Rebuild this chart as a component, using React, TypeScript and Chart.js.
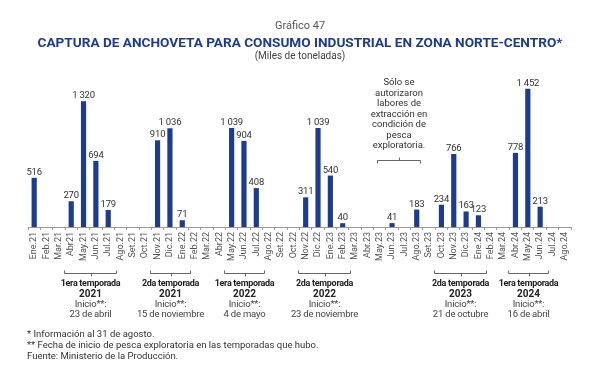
import React, { useEffect, useRef } from "react";
import { Chart, registerables } from "chart.js";

Chart.register(...registerables);

const months = [
  "Ene.21", "Feb.21", "Mar.21", "Abr21", "May.21", "Jun.21", "Jul.21", "Ago.21", "Set.21", "Oct.21", "Nov.21", "Dic.21",
  "Ene.22", "Feb.22", "Mar.22", "Abr22", "May.22", "Jun.22", "Jul.22", "Ago.22", "Set.22", "Oct.22", "Nov.22", "Dic.22",
  "Ene.23", "Feb.23", "Mar.23", "Abr.23", "May.23", "Jun.23", "Jul.23", "Ago.23", "Set.23", "Oct.23", "Nov.23", "Dic.23",
  "Ene.24", "Feb.24", "Mar.24", "Abr.24", "May.24", "Jun.24", "Jul.24", "Ago.24",
];

const captura: (number | null)[] = [
  516, null, null, 270, 1320, 694, 179, null, null, null, 910, 1036,
  71, null, null, null, 1039, 904, 408, null, null, null, 311, 1039,
  540, 40, null, null, null, 41, null, 183, null, 234, 766, 163,
  123, null, null, 778, 1452, 213, null, null,
];

const seasonNames = ["1era temporada", "2da temporada", "1era temporada", "2da temporada", "2da temporada", "1era temporada"];
const seasonYears = ["2021", "2021", "2022", "2022", "2023", "2024"];
const seasonStarts = ["23 de abril", "15 de noviembre", "4 de mayo", "23 de noviembre", "21 de octubre", "16 de abril"];
const seasonFrom = ["Abr21", "Nov.21", "May.22", "Nov.22", "Oct.23", "Abr.24"];
const seasonTo = ["Jul.21", "Ene.22", "Jul.22", "Feb.23", "Ene.24", "Jun.24"];

const noteLines = ["Sólo se", "autorizaron", "labores de", "extracción en", "condición de", "pesca", "exploratoria."];
const noteFrom = "May.23";
const noteTo = "Ago.23";

const footnotes = [
  "* Información al 31 de agosto.",
  "** Fecha de inicio de pesca exploratoria en las temporadas que hubo.",
  "Fuente: Ministerio de la Producción.",
];

const BAR_COLOR = "#1d3c8f";
const FONT = "Roboto";

function fmt(v: number): string {
  if (v >= 1000) {
    return Math.floor(v / 1000) + " " + String(v % 1000).padStart(3, "0");
  }
  return String(v);
}

const labelsPlugin = {
  id: "customLabels",
  afterDatasetsDraw(chart: any) {
    const ctx = chart.ctx;
    const meta = chart.getDatasetMeta(0);
    ctx.save();
    ctx.font = `9.5px ${FONT}`;
    (ctx as any).letterSpacing = "-0.2px";
    ctx.fillStyle = "#333";
    ctx.textAlign = "center";
    ctx.textBaseline = "alphabetic";
    meta.data.forEach((bar: any, i: number) => {
      const v = captura[i];
      if (v == null) return;
      ctx.fillText(fmt(v), bar.x, bar.y - 3);
    });
    ctx.restore();
  },
  afterDraw(chart: any) {
    const ctx = chart.ctx;
    const xs = chart.scales.x;
    const w = xs.width / months.length;
    const px = (m: string) => xs.getPixelForValue(months.indexOf(m));
    ctx.save();
    ctx.strokeStyle = "#666";
    ctx.lineWidth = 1;
    ctx.textAlign = "center";
    ctx.textBaseline = "middle";
    for (let s = 0; s < seasonNames.length; s++) {
      const x0 = Math.round(px(seasonFrom[s]) - 0.6 * w) + 0.5;
      const x1 = Math.round(px(seasonTo[s]) + 0.6 * w) + 0.5;
      const xc = Math.round((x0 + x1) / 2) + 0.5;
      const y = 273.5;
      ctx.beginPath();
      ctx.moveTo(x0, y - 3);
      ctx.lineTo(x0, y);
      ctx.lineTo(x1, y);
      ctx.lineTo(x1, y - 3);
      ctx.moveTo(xc, y);
      ctx.lineTo(xc, y + 3);
      ctx.stroke();
      const tx = (x0 + x1) / 2;
      ctx.fillStyle = "#222";
      (ctx as any).letterSpacing = "-0.3px";
      ctx.font = `bold 9px ${FONT}`;
      ctx.fillText(seasonNames[s], tx, 283.5);
      ctx.font = `bold 10px ${FONT}`;
      (ctx as any).letterSpacing = "0px";
      ctx.fillText(seasonYears[s], tx, 294.5);
      ctx.fillStyle = "#444";
      (ctx as any).letterSpacing = "-0.2px";
      ctx.font = `9.5px ${FONT}`;
      ctx.fillText("Inicio**:", tx, 305);
      ctx.fillText(seasonStarts[s], tx, 315);
    }
    // annotation
    const a0 = Math.round(px(noteFrom) - 0.25 * w) + 0.5;
    const a1 = Math.round(px(noteTo) + 0.25 * w) + 0.5;
    const ac = Math.round((a0 + a1) / 2) + 0.5;
    const ay = 160.5;
    ctx.beginPath();
    ctx.moveTo(a0, ay + 3);
    ctx.lineTo(a0, ay);
    ctx.lineTo(a1, ay);
    ctx.lineTo(a1, ay + 3);
    ctx.moveTo(ac, ay);
    ctx.lineTo(ac, ay - 3);
    ctx.stroke();
    ctx.fillStyle = "#333";
    (ctx as any).letterSpacing = "0px";
    ctx.font = `9.5px ${FONT}`;
    noteLines.forEach((line, i) => {
      ctx.fillText(line, (a0 + a1) / 2, 83 + i * 10.5);
    });
    ctx.restore();
  },
};

export default function App() {
  const canvasRef = useRef<HTMLCanvasElement | null>(null);

  useEffect(() => {
    if (!canvasRef.current) return;
    const chart = new Chart(canvasRef.current, {
      type: "bar",
      data: {
        labels: months,
        datasets: [
          {
            data: captura as any,
            backgroundColor: BAR_COLOR,
            borderWidth: 0,
            barPercentage: 0.42,
            categoryPercentage: 1,
          },
        ],
      },
      options: {
        animation: false,
        responsive: false,
        maintainAspectRatio: false,
        devicePixelRatio: 1,
        layout: { padding: { top: 65, left: 28, right: 29, bottom: 109 } },
        plugins: { legend: { display: false }, tooltip: { enabled: false } },
        scales: {
          x: {
            type: "category",
            offset: true,
            grid: {
              display: true,
              drawOnChartArea: false,
              drawTicks: true,
              tickLength: 3,
              color: "#999",
              offset: true,
            },
            border: { display: true, color: "#999" },
            ticks: {
              autoSkip: false,
              minRotation: 90,
              maxRotation: 90,
              padding: 2,
              color: "#555",
              font: { family: FONT, size: 9 },
            },
            afterFit: (scale: any) => {
              scale.height = 40;
            },
          },
          y: { display: false, min: 0, max: 1700 },
        },
      },
      plugins: [labelsPlugin],
    });
    return () => chart.destroy();
  }, []);

  const center = (top: number, lh: number): React.CSSProperties => ({
    position: "absolute",
    left: 0,
    width: 600,
    top: top - lh / 2,
    height: lh,
    lineHeight: lh + "px",
    textAlign: "center",
    whiteSpace: "nowrap",
    fontFamily: FONT,
  });

  return (
    <div style={{ position: "absolute", left: 0, top: 0, width: 600, height: 376, background: "#fff", overflow: "hidden" }}>
      <canvas ref={canvasRef} width={600} height={376} style={{ position: "absolute", left: 0, top: 0, width: 600, height: 376 }} />
      <div style={{ ...center(26, 14), fontSize: 11, color: "#555" }}>Gráfico 47</div>
      <div style={{ ...center(42, 16), fontSize: 13.6, fontWeight: 700, color: BAR_COLOR }}>
        CAPTURA DE ANCHOVETA PARA CONSUMO INDUSTRIAL EN ZONA NORTE-CENTRO*
      </div>
      <div style={{ ...center(56, 12), fontSize: 10, color: "#444" }}>(Miles de toneladas)</div>
      {footnotes.map((t, i) => (
        <div
          key={i}
          style={{
            position: "absolute",
            left: 27,
            top: 334 + i * 11 - 6,
            height: 12,
            lineHeight: "12px",
            whiteSpace: "nowrap",
            fontFamily: FONT,
            fontSize: 9.5,
            color: "#333",
          }}
        >
          {t}
        </div>
      ))}
    </div>
  );
}
